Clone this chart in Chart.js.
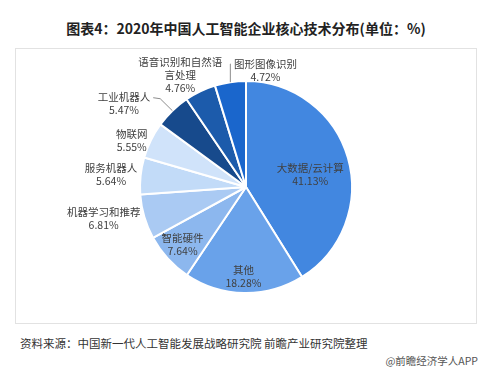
<!DOCTYPE html>
<html>
<head>
<meta charset="utf-8">
<script src="https://cdn.jsdelivr.net/npm/chart.js@4.4.0/dist/chart.umd.min.js"></script>
<style>
  body { margin: 0; width: 500px; height: 375px; background: #fff; font-family: "Noto Sans CJK SC", "Noto Sans", sans-serif; position: relative; overflow: hidden; }
  #title { position: absolute; left: 0; width: 492px; top: 18px; text-align: center; font-size: 14px; font-weight: bold; color: #222; }
  #box { position: absolute; left: 15px; top: 48px; width: 460px; height: 274px; border: 1px solid #e2e2e2; }
  #source { position: absolute; left: 20px; top: 335px; font-size: 11.5px; color: #333; }
  #brand { position: absolute; right: 22px; top: 353px; font-size: 10.5px; color: #555; }
</style>
</head>
<body>
<div id="title">图表4：2020年中国人工智能企业核心技术分布(单位：%)</div>
<div id="box"><canvas id="pieChart" width="460" height="274"></canvas></div>
<div id="source">资料来源：中国新一代人工智能发展战略研究院 前瞻产业研究院整理</div>
<div id="brand">@前瞻经济学人APP</div>
<script>
const categories = ['大数据/云计算', '其他', '智能硬件', '机器学习和推荐', '服务机器人', '物联网', '工业机器人', '语音识别和自然语言处理', '图形图像识别'];
const shares = [41.13, 18.28, 7.64, 6.81, 5.64, 5.55, 5.47, 4.76, 4.72];
const labelLines = [['大数据/云计算'], ['其他'], ['智能硬件'], ['机器学习和推荐'], ['服务机器人'], ['物联网'], ['工业机器人'], ['语音识别和自然语', '言处理'], ['图形图像识别']];
const sliceColors = ['#4287e0', '#69a2ea', '#8cb7ee', '#aacaf3', '#c2dbf8', '#d0e3fa', '#174a8c', '#1c5bab', '#1a66cc'];

// label placement: [radius factor, dx, dy, leader]
const labelPos = [
  [0.62, 1, 6, null],
  [0.84, -1, 0, null],
  [0.81, 0, 0, null],
  [1.38, -2, -10, null],
  [1.28, 0, 2, null],
  [1.17, -3, 8, null],
  [1.40, -19, 23, 'side'],
  [1.22, -10, 5, null],
  [1.12, 37, 1, 'elbow']
];

const pieLabels = {
  id: 'pieLabels',
  afterDatasetsDraw(chart) {
    const ctx = chart.ctx;
    const arcs = chart.getDatasetMeta(0).data;
    ctx.save();
    ctx.font = '10.5px "Noto Sans CJK SC", sans-serif';
    ctx.fillStyle = '#404040';
    ctx.textAlign = 'center';
    ctx.textBaseline = 'middle';
    arcs.forEach((arc, i) => {
      const mid = (arc.startAngle + arc.endAngle) / 2;
      const [rf, dx, dy, leader] = labelPos[i];
      const r = arc.outerRadius * rf;
      const cx = arc.x + Math.cos(mid) * r + dx;
      const cy = arc.y + Math.sin(mid) * r + dy;
      const lines = labelLines[i].concat([shares[i].toFixed(2) + '%']);
      const lh = 13;
      const top = cy - (lines.length - 1) * lh / 2;
      lines.forEach((t, k) => ctx.fillText(t, cx, top + k * lh));
      const ex = arc.x + Math.cos(mid) * arc.outerRadius;
      const ey = arc.y + Math.sin(mid) * arc.outerRadius;
      if (leader) {
        const w = ctx.measureText(labelLines[i][0]).width;
        ctx.strokeStyle = '#8c8c8c';
        ctx.lineWidth = 1;
        ctx.beginPath();
        if (leader === 'side') {
          ctx.moveTo(cx + w / 2 + 3, top + 1);
          ctx.lineTo(cx + w / 2 + 10, top + 2);
          ctx.lineTo(ex, ey);
        } else {
          ctx.moveTo(cx - w / 2 - 3, top);
          ctx.lineTo(ex, top);
          ctx.lineTo(ex, ey);
        }
        ctx.stroke();
      }
    });
    ctx.restore();
  }
};

new Chart(document.getElementById('pieChart'), {
  type: 'pie',
  data: {
    labels: categories,
    datasets: [{
      data: shares,
      backgroundColor: sliceColors,
      borderColor: '#ffffff',
      borderWidth: 2
    }]
  },
  options: {
    responsive: false,
    animation: false,
    layout: { padding: { top: 31, bottom: 29, left: 123, right: 123 } },
    plugins: { legend: { display: false }, tooltip: { enabled: false } }
  },
  plugins: [pieLabels]
});
</script>
</body>
</html>
